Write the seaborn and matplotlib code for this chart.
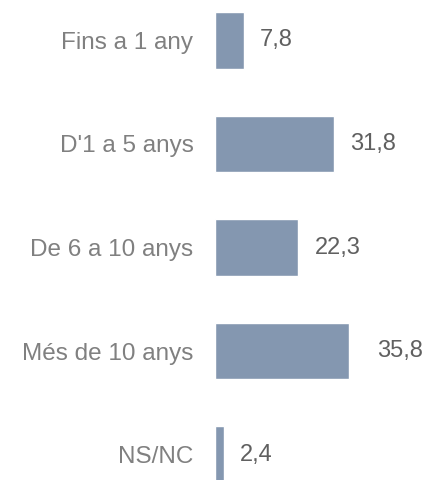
import matplotlib
matplotlib.use("Agg")
import matplotlib.pyplot as plt
import seaborn as sns
import pandas as pd

# dades (percentatges)
categories = ["Fins a 1 any", "D'1 a 5 anys", "De 6 a 10 anys", "Més de 10 anys", "NS/NC"]
values = [7.8, 31.8, 22.3, 35.8, 2.4]

df = pd.DataFrame({"cat": categories, "val": values})

sns.set_style("white")
plt.rcParams["font.family"] = ["Liberation Sans", "DejaVu Sans"]

fig = plt.figure(figsize=(4.31, 4.80), dpi=100)
ax = fig.add_axes([215 / 431, 0, 216 / 431, 1])

sns.barplot(data=df, x="val", y="cat", orient="h", color="#8497b0",
            saturation=1, width=0.55, ax=ax)

ax.set_xlim(0, 57.75)
ax.set_ylim(4.246, -0.391)

labels = []
for c in ax.containers:
    labels = ax.bar_label(c, labels=[f"{v:.1f}".replace(".", ",") for v in values],
                          padding=11.5, fontsize=17, color="#606060")

# l'etiqueta de la barra més llarga queda una mica més separada
if len(labels) == len(values):
    i = values.index(max(values))
    labels[i].xyann = (20, 0)

ax.set_xlabel("")
ax.set_ylabel("")
ax.set_xticks([])
ax.tick_params(axis="y", length=0, pad=15.5, labelsize=17.5, labelcolor="#808080")
sns.despine(ax=ax, left=True, bottom=True)

fig.savefig("out.png", dpi=100)
